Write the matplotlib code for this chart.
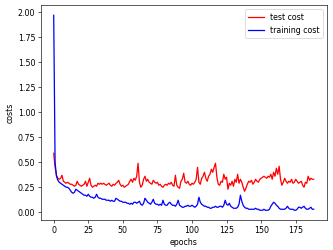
import matplotlib
matplotlib.use("Agg")
import matplotlib.pyplot as plt
import numpy as np

training_cost = [
    1.97, 0.50, 0.36, 0.32, 0.30, 0.29, 0.28, 0.27, 0.26, 0.25,
    0.25, 0.24, 0.22, 0.20, 0.19, 0.20, 0.23, 0.22, 0.21, 0.20,
    0.19, 0.18, 0.17, 0.17, 0.16, 0.18, 0.16, 0.15, 0.15, 0.14,
    0.15, 0.18, 0.15, 0.14, 0.14, 0.13, 0.13, 0.13, 0.12, 0.12,
    0.12, 0.11, 0.12, 0.11, 0.11, 0.14, 0.13, 0.12, 0.11, 0.11,
    0.10, 0.10, 0.10, 0.09, 0.09, 0.08, 0.09, 0.08, 0.10, 0.10,
    0.09, 0.10, 0.11, 0.08, 0.07, 0.09, 0.14, 0.12, 0.10, 0.09,
    0.08, 0.10, 0.13, 0.09, 0.08, 0.08, 0.07, 0.08, 0.07, 0.12,
    0.08, 0.07, 0.07, 0.09, 0.10, 0.08, 0.07, 0.07, 0.06, 0.08,
    0.12, 0.07, 0.06, 0.05, 0.05, 0.06, 0.06, 0.07, 0.06, 0.06,
    0.07, 0.06, 0.05, 0.06, 0.08, 0.15, 0.10, 0.08, 0.07, 0.06,
    0.06, 0.05, 0.05, 0.04, 0.04, 0.05, 0.05, 0.06, 0.05, 0.05,
    0.06, 0.06, 0.05, 0.07, 0.12, 0.08, 0.07, 0.09, 0.06, 0.05,
    0.04, 0.04, 0.04, 0.05, 0.08, 0.17, 0.11, 0.07, 0.05, 0.04,
    0.04, 0.03, 0.03, 0.03, 0.03, 0.03, 0.04, 0.03, 0.03, 0.02,
    0.02, 0.02, 0.03, 0.02, 0.02, 0.02, 0.03, 0.06, 0.08, 0.10,
    0.09, 0.07, 0.06, 0.04, 0.03, 0.03, 0.03, 0.03, 0.04, 0.06,
    0.04, 0.03, 0.03, 0.03, 0.02, 0.02, 0.03, 0.05, 0.05, 0.04,
    0.05, 0.06, 0.04, 0.03, 0.03, 0.04, 0.05, 0.03, 0.03,
]

test_cost = [
    0.59, 0.45, 0.37, 0.34, 0.33, 0.34, 0.37, 0.31, 0.30, 0.29,
    0.30, 0.29, 0.28, 0.28, 0.27, 0.26, 0.27, 0.31, 0.28, 0.27,
    0.26, 0.27, 0.28, 0.31, 0.26, 0.30, 0.34, 0.27, 0.25, 0.26,
    0.27, 0.26, 0.29, 0.28, 0.29, 0.28, 0.29, 0.28, 0.27, 0.28,
    0.29, 0.27, 0.26, 0.28, 0.27, 0.29, 0.30, 0.32, 0.28, 0.26,
    0.27, 0.25, 0.26, 0.27, 0.28, 0.31, 0.33, 0.30, 0.34, 0.32,
    0.36, 0.49, 0.30, 0.25, 0.27, 0.33, 0.36, 0.31, 0.33, 0.30,
    0.29, 0.28, 0.32, 0.30, 0.29, 0.30, 0.27, 0.28, 0.26, 0.25,
    0.27, 0.28, 0.27, 0.29, 0.28, 0.30, 0.27, 0.26, 0.37, 0.27,
    0.25, 0.24, 0.31, 0.33, 0.39, 0.30, 0.29, 0.31, 0.28, 0.27,
    0.29, 0.28, 0.30, 0.33, 0.45, 0.30, 0.28, 0.34, 0.36, 0.40,
    0.34, 0.31, 0.36, 0.38, 0.43, 0.40, 0.45, 0.49, 0.35, 0.28,
    0.27, 0.31, 0.30, 0.38, 0.33, 0.35, 0.23, 0.29, 0.27, 0.31,
    0.26, 0.33, 0.30, 0.38, 0.29, 0.33, 0.30, 0.25, 0.21, 0.24,
    0.28, 0.31, 0.30, 0.32, 0.28, 0.30, 0.33, 0.31, 0.30, 0.33,
    0.34, 0.35, 0.36, 0.35, 0.34, 0.36, 0.35, 0.38, 0.33, 0.40,
    0.36, 0.44, 0.38, 0.46, 0.33, 0.27, 0.30, 0.34, 0.31, 0.29,
    0.31, 0.30, 0.33, 0.29, 0.30, 0.33, 0.31, 0.29, 0.30, 0.31,
    0.27, 0.25, 0.30, 0.29, 0.36, 0.32, 0.34, 0.33, 0.33,
]

epochs = np.arange(len(test_cost))

dpi = 56.6
fig = plt.figure(figsize=(333 / dpi, 250 / dpi), dpi=dpi)
ax = fig.add_axes([40.7 / 333, 1 - 220 / 250, (326.7 - 40.7) / 333, (220 - 5.5) / 250])
ax.plot(epochs, test_cost, color="red", label="test cost", linewidth=1.6)
ax.plot(epochs, training_cost, color="blue", label="training cost", linewidth=1.6)
ax.set_xlabel("epochs")
ax.set_ylabel("costs")
ax.legend(loc="upper right")
fig.savefig("out.png", dpi=dpi)
